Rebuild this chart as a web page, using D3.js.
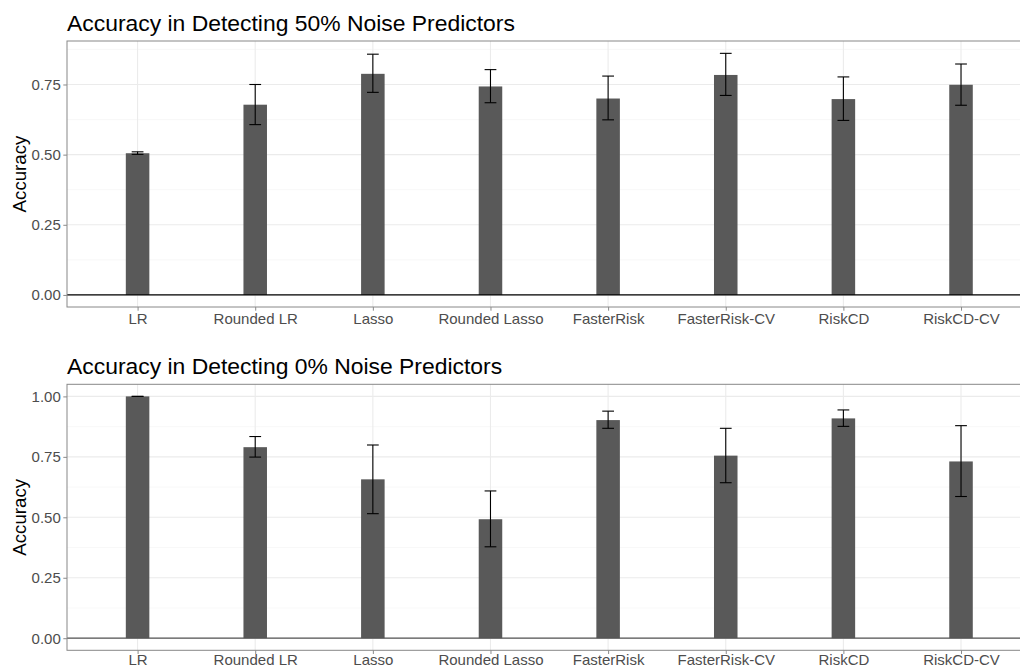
<!DOCTYPE html>
<html>
<head>
<meta charset="utf-8">
<script src="https://cdn.jsdelivr.net/npm/d3@7"></script>
<style>
  html, body { margin: 0; padding: 0; background: #fff; }
  svg { display: block; font-family: "Liberation Sans", Arial, Helvetica, sans-serif; }
</style>
</head>
<body>
<svg id="chart" width="1020" height="668"></svg>
<script>
const methods = ["LR", "Rounded LR", "Lasso", "Rounded Lasso", "FasterRisk", "FasterRisk-CV", "RiskCD", "RiskCD-CV"];

// Panel 1: 50% noise predictors
const acc50 = [0.505, 0.678, 0.788, 0.743, 0.700, 0.784, 0.698, 0.749];
const lo50  = [0.501, 0.607, 0.722, 0.685, 0.624, 0.711, 0.622, 0.676];
const hi50  = [0.510, 0.750, 0.858, 0.803, 0.780, 0.861, 0.777, 0.823];

// Panel 2: 0% noise predictors
const acc0 = [1.000, 0.790, 0.657, 0.492, 0.902, 0.755, 0.909, 0.731];
const lo0  = [1.000, 0.749, 0.515, 0.378, 0.868, 0.643, 0.876, 0.586];
const hi0  = [1.000, 0.834, 0.799, 0.609, 0.939, 0.868, 0.944, 0.879];

const ticks50 = [0, 0.25, 0.5, 0.75];
const ticks0 = [0, 0.25, 0.5, 0.75, 1.0];
const minor50 = [0.125, 0.375, 0.625, 0.875];
const minor0 = [0.125, 0.375, 0.625, 0.875];

const titles = ["Accuracy in Detecting 50% Noise Predictors", "Accuracy in Detecting 0% Noise Predictors"];

const svg = d3.select("#chart");
const left = 67, right = 1031.6;

function panel(cfg) {
  const g = svg.append("g");
  const x = d3.scalePoint().domain(methods).range([left, right]).padding(0.6);
  const step = x.step();
  const y = d3.scaleLinear().domain(cfg.domain).range([cfg.bottom, cfg.top]);
  const data = methods.map((m, i) => ({ m, v: cfg.acc[i], lo: cfg.lo[i], hi: cfg.hi[i] }));

  // grid
  g.selectAll(".minor").data(cfg.minor).join("line")
    .attr("x1", left).attr("x2", right)
    .attr("y1", d => y(d)).attr("y2", d => y(d))
    .attr("stroke", "#f4f4f4").attr("stroke-width", 0.6);
  g.selectAll(".major").data(cfg.ticks).join("line")
    .attr("x1", left).attr("x2", right)
    .attr("y1", d => y(d)).attr("y2", d => y(d))
    .attr("stroke", "#ebebeb").attr("stroke-width", 1.1);
  g.selectAll(".vmajor").data(methods).join("line")
    .attr("x1", d => x(d)).attr("x2", d => x(d))
    .attr("y1", cfg.top).attr("y2", cfg.bottom)
    .attr("stroke", "#ebebeb").attr("stroke-width", 1.1);

  // bars
  const bw = step * 0.2;
  g.selectAll(".bar").data(data).join("rect")
    .attr("x", d => x(d.m) - bw / 2).attr("width", bw)
    .attr("y", d => y(d.v)).attr("height", d => y(0) - y(d.v))
    .attr("fill", "#595959");

  // zero line
  g.append("line").attr("x1", left).attr("x2", right)
    .attr("y1", y(0)).attr("y2", y(0))
    .attr("stroke", cfg.zeroColor).attr("stroke-width", 1.3);

  // error bars
  const cw = step * 0.1;
  const eb = g.selectAll(".eb").data(data).join("g").attr("stroke", "#000").attr("stroke-width", 1.1);
  eb.append("line").attr("x1", d => x(d.m)).attr("x2", d => x(d.m))
    .attr("y1", d => y(d.lo)).attr("y2", d => y(d.hi));
  eb.append("line").attr("x1", d => x(d.m) - cw / 2).attr("x2", d => x(d.m) + cw / 2)
    .attr("y1", d => y(d.lo)).attr("y2", d => y(d.lo));
  eb.append("line").attr("x1", d => x(d.m) - cw / 2).attr("x2", d => x(d.m) + cw / 2)
    .attr("y1", d => y(d.hi)).attr("y2", d => y(d.hi));

  // panel border
  g.append("rect").attr("x", left).attr("y", cfg.top)
    .attr("width", right - left).attr("height", cfg.bottom - cfg.top)
    .attr("fill", "none").attr("stroke", "#888").attr("stroke-width", 1);

  // axes
  const yAxis = d3.axisLeft(y).tickValues(cfg.ticks).tickFormat(d3.format(".2f")).tickSize(3.7).tickPadding(2.5);
  const ya = g.append("g").attr("transform", `translate(${left},0)`).call(yAxis);
  ya.select(".domain").remove();
  ya.selectAll(".tick line").attr("stroke", "#8a8a8a");
  ya.selectAll(".tick text").attr("fill", "#4d4d4d").attr("font-size", 15)
    .attr("font-family", "Liberation Sans, Arial, sans-serif");

  const xAxis = d3.axisBottom(x).tickSize(3.7).tickPadding(cfg.xPad);
  const xa = g.append("g").attr("transform", `translate(0,${cfg.bottom})`).call(xAxis);
  xa.select(".domain").remove();
  xa.selectAll(".tick line").attr("stroke", "#8a8a8a");
  xa.selectAll(".tick text").attr("fill", "#4d4d4d").attr("font-size", 15)
    .attr("font-family", "Liberation Sans, Arial, sans-serif");

  // axis title
  g.append("text")
    .attr("transform", `translate(26,${(cfg.top + cfg.bottom) / 2}) rotate(-90)`)
    .attr("text-anchor", "middle").attr("font-size", 18.7).attr("fill", "#000")
    .text("Accuracy");

  // title
  g.append("text").attr("x", left).attr("y", cfg.top - 10)
    .attr("font-size", 22.9).attr("fill", "#000").text(cfg.title);
}

panel({ top: 41, bottom: 307, domain: [-0.043, 0.905], acc: acc50, lo: lo50, hi: hi50,
        ticks: ticks50, minor: minor50, title: titles[0], zeroColor: "#000", xPad: 2.5 });
panel({ top: 384.3, bottom: 650.3, domain: [-0.05, 1.05], acc: acc0, lo: lo0, hi: hi0,
        ticks: ticks0, minor: minor0, title: titles[1], zeroColor: "#555", xPad: 0 });
</script>
</body>
</html>
